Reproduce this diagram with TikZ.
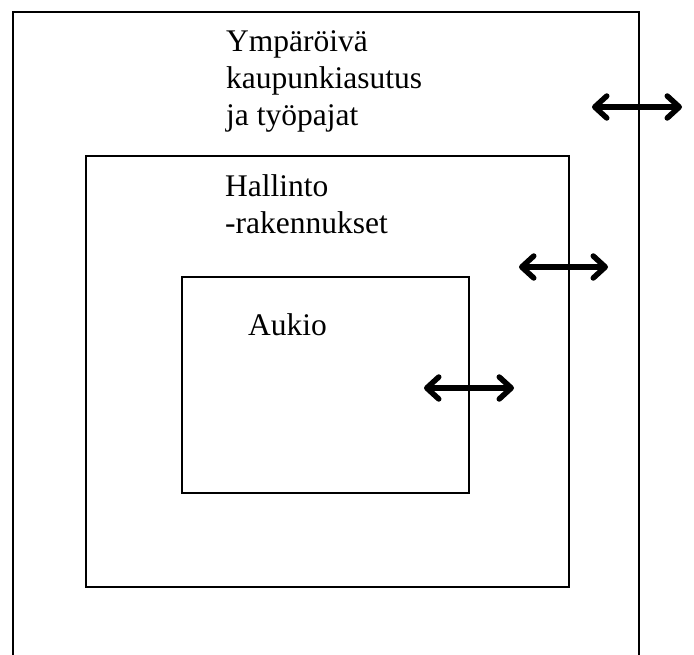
\documentclass[tikz,border=0pt]{standalone}
\usepackage{fontspec}
\setmainfont{Liberation Serif}
\usetikzlibrary{arrows.meta,positioning}
\tikzstyle{alue} = [rectangle, draw, line width=2pt, anchor=north west,
    inner sep=0pt]
\tikzstyle{nimi} = [anchor=north west, inner sep=0pt, align=left,
    font=\fontsize{31.5}{37}\selectfont]
\tikzstyle{kulku} = [line width=5.5pt, line cap=round, line join=round,
    {Straight Barb[length=12pt,width=22pt,line cap=round,line join=round]}-{Straight Barb[length=12pt,width=22pt,line cap=round,line join=round]}]

\begin{document}
\begin{tikzpicture}[x=1pt,y=-1pt]
  \useasboundingbox (0,0) rectangle (694,655);
  \clip (0,0) rectangle (694,655);
  % kehat
  \node [alue, minimum width=626pt, minimum height=700pt] (ulko) at (12,11) {};
  \node [alue, minimum width=483.5pt, minimum height=431pt] (keski) at (84.5,155) {};
  \node [alue, minimum width=287.5pt, minimum height=215.5pt] (sisa) at (180.5,276) {};
  % tekstit
  \node [nimi] (t1) at (226,30) {Ympäröivä\\kaupunkiasutus\\ja työpajat};
  \node [nimi] (t2) at (225,174) {Hallinto\\-rakennukset};
  \node [nimi] (t3) at (248,313) {Aukio};
  % nuolet
  \coordinate (a1) at (592,107);
  \coordinate (b1) at (682,107);
  \coordinate (a2) at (519,267);
  \coordinate (b2) at (608,267);
  \coordinate (a3) at (424,388);
  \coordinate (b3) at (514,388);
  \draw [kulku] (a1) -- (b1);
  \draw [kulku] (a2) -- (b2);
  \draw [kulku] (a3) -- (b3);
\end{tikzpicture}
\end{document}
